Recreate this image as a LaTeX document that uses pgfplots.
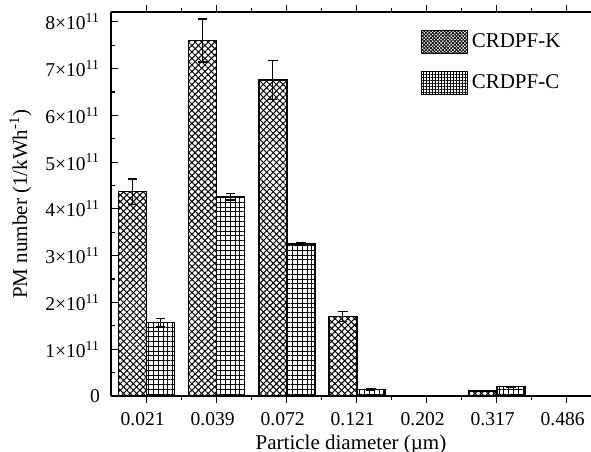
\documentclass[border=0pt]{standalone}
\usepackage{fontspec}
\setmainfont{Liberation Serif}
\usepackage{pgfplots}
\pgfplotsset{compat=1.18}
\usetikzlibrary{patterns.meta}
\begin{document}
\begin{tikzpicture}
\begin{axis}[
  scale only axis,
  width=240pt, height=192pt,
  xmin=-0.51, xmax=6.347,
  ymin=0, ymax=8.21,
  axis x line*=box,
  axis y line*=left,
  tick align=inside,
  xtick={0,...,6},
  xticklabels={0.021,0.039,0.072,0.121,0.202,0.317,0.486},
  minor x tick num=1,
  ytick={0,...,8},
  yticklabels={0,1×10\textsuperscript{11},2×10\textsuperscript{11},3×10\textsuperscript{11},4×10\textsuperscript{11},5×10\textsuperscript{11},6×10\textsuperscript{11},7×10\textsuperscript{11},8×10\textsuperscript{11}},
  minor y tick num=1,
  major tick length=3.5pt,
  minor tick length=2pt,
  tick style={black, line width=0.6pt},
  axis line style={line width=0.8pt},
  ticklabel style={font=\fontsize{9.8}{11}\selectfont},
  yticklabel style={xshift=-2pt},
  xticklabel style={yshift=-1pt, xshift=-2pt},
  xlabel={Particle diameter (µm)},
  ylabel={PM number (1/kWh\textsuperscript{-1})},
  label style={font=\fontsize{10.5}{12}\selectfont},
  xlabel style={yshift=2pt},
  ybar=0pt, bar width=14pt,
  legend style={draw=none, fill=none, at={(0.645,0.955)}, anchor=north west,
    font=\fontsize{10.5}{12}\selectfont, row sep=8pt, inner sep=0pt,
    legend cell align=left},
  error bars/y dir=both, error bars/y explicit,
  error bars/error bar style={line width=0.6pt, black},
  error bars/error mark options={rotate=90, mark size=2.4pt, line width=0.6pt, black},
]
\addplot[draw=black, line width=0.8pt, pattern={Hatch[angle=45,distance=2.3pt,line width=0.5pt]},
  legend image code/.code={\draw[draw=black,line width=0.8pt,pattern={Hatch[angle=45,distance=1.2pt,line width=0.4pt]}] (0pt,-5.75pt) rectangle (23pt,5.75pt);}]
  coordinates {
  (0,4.37) +- (0,0.27)
  (1,7.60) +- (0,0.46)
  (2,6.76) +- (0,0.42)
  (3,1.70) +- (0,0.10)
  (4,0.01) +- (0,0.0)
  (5,0.11) +- (0,0.01)
  (6,0.01) +- (0,0.0)
  };
\addlegendentry{CRDPF-K}
\addplot[draw=black, line width=0.8pt, pattern={Hatch[angle=0,distance=2.4pt,line width=0.5pt]},
  legend image code/.code={\draw[draw=black,line width=0.8pt,pattern={Hatch[angle=0,distance=1.5pt,line width=0.4pt]}] (0pt,-5.75pt) rectangle (23pt,5.75pt);}]
  coordinates {
  (0,1.57) +- (0,0.08)
  (1,4.26) +- (0,0.07)
  (2,3.25) +- (0,0.04)
  (3,0.14) +- (0,0.01)
  (4,0.005) +- (0,0.0)
  (5,0.20) +- (0,0.01)
  (6,0.005) +- (0,0.0)
  };
\addlegendentry{CRDPF-C}
\end{axis}
\pgfresetboundingbox
\path ([xshift=-55.5pt,yshift=-28pt]current axis.south west) rectangle ([yshift=6pt]current axis.north east);
\end{tikzpicture}
\end{document}
